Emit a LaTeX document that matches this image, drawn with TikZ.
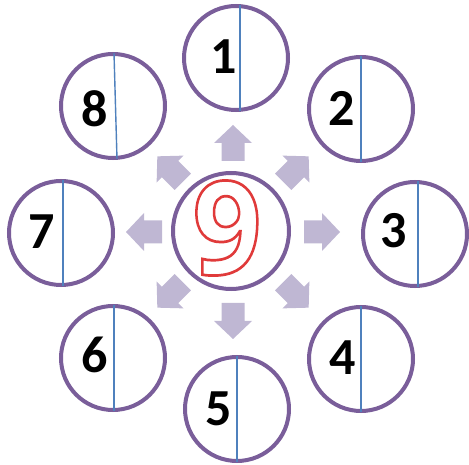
\documentclass[tikz,border=0pt]{standalone}
\usepackage{fontspec}
\setmainfont{Carlito}
\newfontfamily\ninefam{Open Sans}
\definecolor{ringc}{HTML}{7A5E9A}
\definecolor{linec}{HTML}{4F81BD}
\definecolor{arrowc}{HTML}{BFB7D3}
\newcommand{\outlined}[3]{\special{pdf:literal direct 2 Tr #1 w #2 RG}#3\special{pdf:literal direct 0 Tr}}
\begin{document}
\begin{tikzpicture}[x=1pt,y=-1pt,
  ring/.style={circle, draw=ringc, line width=4pt, fill=white, inner sep=0pt, outer sep=0pt},
  smallring/.style={ring, minimum size=104pt},
  divider/.style={draw=linec, line width=1.4pt},
  numtext/.style={font=\fontsize{52}{52}\selectfont\bfseries, inner sep=0pt, text=black},
  blockarrow/.style={fill=arrowc, draw=none},
  ninefont/.style={font=\ninefam\fontsize{130}{130}\selectfont\bfseries, inner sep=0pt}]
\useasboundingbox (0,0) rectangle (469,465);
% block arrows
\foreach \a in {0,45,...,315}{
  \fill[blockarrow, shift={(233,232)}, rotate=\a]
    (71,-11.5) -- (89,-11.5) -- (89,-19) -- (107,0) -- (89,19) -- (89,11.5) -- (71,11.5) -- cycle;
}
% outer circles
\node[smallring] (c1) at (236,58) {};
\node[smallring] (c2) at (361,109) {};
\node[smallring] (c3) at (415,234) {};
\node[smallring] (c4) at (361,359) {};
\node[smallring] (c5) at (237,409) {};
\node[smallring] (c6) at (113,358) {};
\node[smallring] (c7) at (61,233) {};
\node[smallring] (c8) at (113,106) {};
% dividers
\draw[divider] ([xshift=4pt,yshift=1pt]c1.north) -- ([xshift=4pt,yshift=-1pt]c1.south);
\draw[divider] ([yshift=1pt]c2.north) -- ([yshift=-1pt]c2.south);
\draw[divider] ([xshift=3pt,yshift=1pt]c3.north) -- ([xshift=3pt,yshift=-1pt]c3.south);
\draw[divider] ([yshift=1pt]c4.north) -- ([yshift=-1pt]c4.south);
\draw[divider] ([yshift=1pt]c5.north) -- ([yshift=-1pt]c5.south);
\draw[divider] ([xshift=1pt,yshift=1pt]c6.north) -- ([xshift=1pt,yshift=-1pt]c6.south);
\draw[divider] ([xshift=2pt,yshift=1pt]c7.north) -- ([xshift=2pt,yshift=-1pt]c7.south);
\draw[divider] ([xshift=1pt,yshift=1pt]c8.north) -- ([xshift=4pt,yshift=-1pt]c8.south);
% numbers
\node[numtext] (n1) at (224,56.5) {1};
\node[numtext] (n2) at (342,108) {2};
\node[numtext] (n3) at (394,231) {3};
\node[numtext] (n4) at (343,358) {4};
\node[numtext] (n5) at (219,409) {5};
\node[numtext] (n6) at (95,355) {6};
\node[numtext] (n7) at (42,232) {7};
\node[numtext] (n8) at (95,108.5) {8};
% centre
\node[ring, minimum size=116pt] (c9) at (231,231) {};
\node[ninefont, text=white] (nine) at (227,228) {\scalebox{0.93}[1]{\outlined{2.7}{0.878 0.227 0.227}{9}}};
\end{tikzpicture}
\end{document}
